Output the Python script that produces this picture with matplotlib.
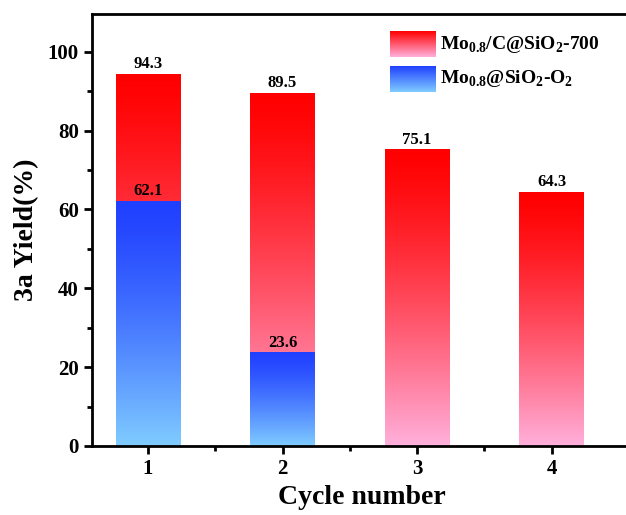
import numpy as np
import matplotlib.pyplot as plt
from matplotlib.colors import to_rgb

plt.rcParams['font.family'] = ['Liberation Serif', 'DejaVu Serif']
plt.rcParams['font.weight'] = 'bold'
plt.rcParams['mathtext.fontset'] = 'custom'
plt.rcParams['mathtext.rm'] = 'Liberation Serif:bold'
plt.rcParams['mathtext.bf'] = 'Liberation Serif:bold'

# dati
cycles = [1, 2, 3, 4]
yield_mo_c = [94.3, 89.5, 75.1, 64.3]     # Mo0.8/C@SiO2-700
yield_mo_o2 = [62.1, 23.6]                # Mo0.8@SiO2-O2 (solo cicli 1-2)
cycles_o2 = [1, 2]
series_names = [r'Mo$_{\mathbf{0.8}}$/C@SiO$_{\mathbf{2}}$-700',
                r'Mo$_{\mathbf{0.8}}$@SiO$_{\mathbf{2}}$-O$_{\mathbf{2}}$']

red_top, red_bottom = '#ff0000', '#ffb0dc'
blue_top, blue_bottom = '#2040ff', '#80ccff'
bar_w = 0.48


def gradient(top, bottom, n=256, gamma=1.3):
    # colonna RGB: colore 'top' in alto, 'bottom' in basso
    s = np.linspace(0, 1, n) ** gamma
    c0, c1 = np.array(to_rgb(top)), np.array(to_rgb(bottom))
    col = c0[None, :] + s[:, None] * (c1 - c0)[None, :]
    return col[:, None, :]


def gradient_bar(ax, x, h, top, bottom):
    ax.imshow(gradient(top, bottom), extent=[x - bar_w / 2, x + bar_w / 2, 0, h],
              aspect='auto', origin='upper', interpolation='bilinear', zorder=2)


fig = plt.figure(figsize=(6.26, 5.15), dpi=100)
ax = fig.add_axes([0.147, 0.134, 0.863, 0.839])

for x, h in zip(cycles, yield_mo_c):
    gradient_bar(ax, x, h, red_top, red_bottom)
    ax.text(x, h + 0.6, f'{h}', ha='center', va='bottom', fontsize=12, fontweight='bold')

for x, h in zip(cycles_o2, yield_mo_o2):
    gradient_bar(ax, x, h, blue_top, blue_bottom)
    ax.text(x, h + 0.6, f'{h}', ha='center', va='bottom', fontsize=12, fontweight='bold')

ax.set_xticks(cycles)
ax.set_xticks([1.5, 2.5, 3.5], minor=True)
ax.set_yticks(np.arange(0, 101, 20))
ax.set_yticks(np.arange(10, 101, 20), minor=True)
ax.tick_params(which='major', direction='out', length=6, width=2, labelsize=15)
ax.tick_params(which='minor', direction='out', length=3.5, width=2)
for sp in ax.spines.values():
    sp.set_linewidth(2)
for lab in ax.get_xticklabels() + ax.get_yticklabels():
    lab.set_fontweight('bold')

ax.set_xlabel('Cycle number', fontsize=20, fontweight='bold', labelpad=4)
ax.set_ylabel('3a Yield(%)', fontsize=20, fontweight='bold', labelpad=6)

# legenda con campioni a gradiente
legend_items = [(red_top, red_bottom, series_names[0], 0.930),
                (blue_top, blue_bottom, series_names[1], 0.850)]
for top, bottom, name, yc in legend_items:
    ax.imshow(gradient(top, bottom, gamma=1.0), extent=[0.552, 0.637, yc - 0.03, yc + 0.03],
              transform=ax.transAxes, aspect='auto', origin='upper', zorder=3)
    ax.text(0.645, yc, name, transform=ax.transAxes, ha='left', va='center',
            fontsize=14, fontweight='bold')

ax.set_xlim(0.584, 4.6)
ax.set_ylim(0, 109.6)

fig.savefig('out.png', dpi=100)
